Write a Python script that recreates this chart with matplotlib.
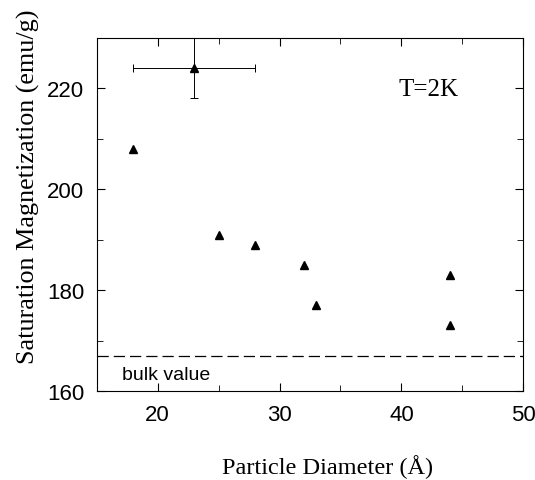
import matplotlib.pyplot as plt
from matplotlib.ticker import MultipleLocator

# Measured saturation magnetization vs particle size
diameter = [18, 23, 25, 28, 32, 33, 44, 44]
magnetization = [208, 224, 191, 189, 185, 177, 183, 173]

# Error bars on the 23 A sample only
err_x = [23]
err_y = [224]
err_dx = [5]
err_dy = [6]

bulk = 167

fig = plt.figure(figsize=(5.35, 4.81), dpi=100)
ax = fig.add_axes([0.181, 0.185, 0.797, 0.734])

ax.errorbar(err_x, err_y, xerr=err_dx, yerr=err_dy, fmt='none',
            ecolor='black', elinewidth=0.7, capsize=3, capthick=0.7)
ax.plot(diameter, magnetization, '^', color='black', markersize=6)
ax.axhline(bulk, color='black', linestyle=(0, (9, 4)), linewidth=0.9)

ax.text(17.1, 162.3, 'bulk value', fontsize=14, family='Liberation Sans')
ax.text(39.8, 218.6, 'T=2K', fontsize=18, family='Liberation Serif')

ax.set_xlim(15, 50)
ax.set_ylim(160, 230)
ax.xaxis.set_major_locator(MultipleLocator(10))
ax.xaxis.set_minor_locator(MultipleLocator(5))
ax.yaxis.set_major_locator(MultipleLocator(20))
ax.yaxis.set_minor_locator(MultipleLocator(10))
ax.tick_params(which='both', direction='in', top=True, right=True)
ax.tick_params(which='major', length=6, labelsize=16, pad=9)
ax.tick_params(which='minor', length=4)
for lbl in ax.get_xticklabels() + ax.get_yticklabels():
    lbl.set_family('Liberation Sans')

ax.set_xlabel('Particle Diameter (Å)', fontsize=17.5, family='Liberation Serif')
ax.set_ylabel('Saturation Magnetization (emu/g)', fontsize=18.8, family='Liberation Serif')
ax.xaxis.set_label_coords(0.542, -0.179)
ax.yaxis.set_label_coords(-0.134, 0.582)

fig.savefig('out.png', dpi=100)
